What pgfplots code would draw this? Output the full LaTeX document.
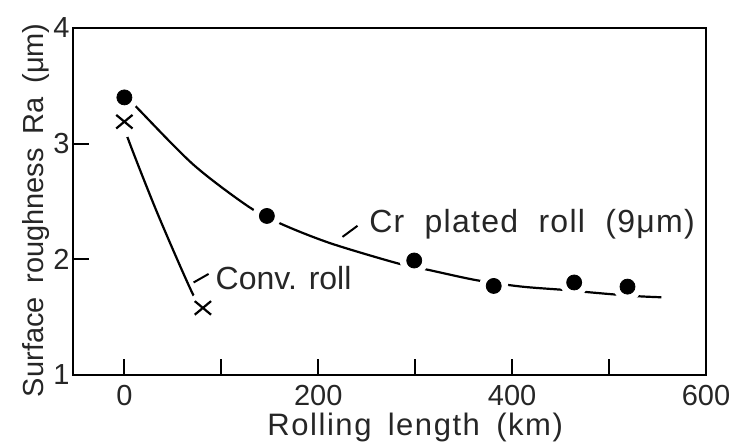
\documentclass[border=0pt]{standalone}
\usepackage{fontspec}
\setmainfont{Liberation Sans}
\newfontfamily\spaced[LetterSpace=4,WordSpace=2]{Liberation Sans}
\newfontfamily\labelfont[LetterSpace=5,WordSpace=1.6]{Liberation Sans}
\newfontfamily\wideword[WordSpace=1.7]{Liberation Sans}
\usepackage{pgfplots}
\usepackage{pgfplotstable}
\pgfplotsset{compat=1.18}

% measured roughness, Cr plated roll (9 um)
\pgfplotstableread{
x    y
0    3.40
147  2.375
299  1.99
381  1.77
464  1.80
519  1.764
}\crdots

% measured roughness, conventional roll
\pgfplotstableread{
x    y
0    3.19
81   1.58
}\convdots

\begin{document}
\begin{tikzpicture}
\begin{axis}[
  scale only axis,
  width=316.5bp, height=173.5bp,
  xmin=-53, xmax=600,
  ymin=1, ymax=4,
  axis line style={line width=1.4bp},
  xtick={0,100,...,600},
  xticklabels={0,,200,,400,,600},
  ytick={1,2,3,4},
  tick align=inside,
  xtick pos=bottom, ytick pos=left,
  major tick length=8bp,
  major tick style={line width=1.1bp, black},
  /pgf/number format/assume math mode=true,
  tick label style={font=\fontsize{14.5bp}{16bp}\selectfont, text=black!85},
  xticklabel style={inner sep=0pt, yshift=-5bp},
  yticklabel style={inner sep=1.5bp},
  xlabel={Rolling length (km)},
  ylabel={Surface roughness Ra (μm)},
  label style={text=black!85, inner sep=0pt},
  xlabel style={font=\labelfont\fontsize{15.5bp}{17bp}\selectfont,
    at={([yshift=-30bp]axis description cs:0.5406,0)}, anchor=base},
  ylabel style={font=\wideword\fontsize{14.5bp}{16bp}\selectfont,
    at={([xshift=-15bp]axis description cs:0,0.475)}, anchor=base},
]
% fitted trend curves
\addplot[line width=1.1bp, smooth, black] coordinates {
  (0,3.42) (12,3.32) (71,2.82) (128.2,2.455) (162.7,2.303) (212.6,2.139)
  (281.6,1.966) (313,1.91) (363,1.82) (409,1.765) (453,1.736) (480,1.715)
  (506,1.696) (532,1.68) (554,1.672)
};
\addplot[line width=1.1bp, smooth, black] coordinates {
  (0,3.19) (3,3.06) (34,2.40) (70,1.71) (81,1.58)
};
% clear space around the symbols
\addplot[white, only marks, mark=*, mark size=7bp, mark options={draw=white, fill=white}] table {\crdots};
\addplot[white, only marks, mark=*, mark size=7.5bp, mark options={draw=white, fill=white}] table {\convdots};
% symbols
\addplot[black, only marks, mark=*, mark size=3.75bp, mark options={draw=black, fill=black}] table {\crdots};
\addplot[black, only marks, mark=x, mark size=4.8bp, mark options={line width=1.1bp, black, xscale=1.2}] table {\convdots};
% leaders and curve names
\draw[line width=1bp] (axis cs:225,2.194) -- (axis cs:240.5,2.29);
\draw[line width=1bp] (axis cs:71.4,1.80) -- (axis cs:86.9,1.874);
\node[anchor=base west, inner sep=0pt, text=black!85, font=\spaced\fontsize{16bp}{18bp}\selectfont]
  at (axis cs:252.2,2.228) {Cr plated roll (9μm)};
\node[anchor=base west, inner sep=0pt, text=black!85, font=\fontsize{16bp}{18bp}\selectfont]
  at (axis cs:93.8,1.735) {Conv. roll};
\coordinate (bl) at (rel axis cs:0,0);
\coordinate (tr) at (rel axis cs:1,1);
\end{axis}
\pgfresetboundingbox
\path ([xshift=-36.5bp,yshift=-34bp]bl) rectangle ([xshift=13bp,yshift=14bp]tr);
\end{tikzpicture}
\end{document}
